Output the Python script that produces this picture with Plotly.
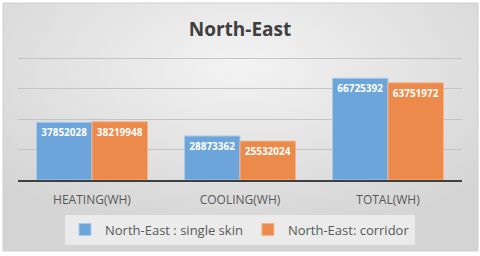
import plotly.graph_objects as go
import urllib.parse

categories = ["HEATING(WH)", "COOLING(WH)", "TOTAL(WH)"]
single_skin = [37852028, 28873362, 66725392]
corridor = [38219948, 25532024, 63751972]
series_names = ["North-East : single skin", "North-East: corridor"]
title_text = "North-East"

W, H = 480, 256
L, R, T, B = 18, 18, 55, 76
pw, ph = W - L - R, H - T - B

def px(x):
    return (x - L) / pw

def py(y):
    return (H - B - y) / ph

svg = (
    "<svg xmlns='http://www.w3.org/2000/svg' width='475' height='248' viewBox='0 0 475 248' preserveAspectRatio='none'>"
    "<defs><radialGradient id='g' cx='50%' cy='25%' r='70%'>"
    "<stop offset='0' stop-color='#f3f3f3'/><stop offset='1' stop-color='#d4d4d4'/>"
    "</radialGradient></defs><rect width='475' height='248' fill='url(#g)'/></svg>"
)
src = "data:image/svg+xml;charset=utf-8," + urllib.parse.quote(svg)

fig = go.Figure()
fig.add_trace(go.Bar(
    x=categories, y=single_skin, name=series_names[0],
    marker=dict(color="#6ca5d9", line=dict(color="#a9cbea", width=1)),
    text=["<b>%d</b>" % v for v in single_skin], textposition="inside",
    insidetextanchor="end", textangle=0,
    textfont=dict(color="white", size=10, family="Open Sans"),
))
fig.add_trace(go.Bar(
    x=categories, y=corridor, name=series_names[1],
    marker=dict(color="#eb8a4b", line=dict(color="#f3b58c", width=1)),
    text=["<b>%d</b>" % v for v in corridor], textposition="inside",
    insidetextanchor="end", textangle=0,
    textfont=dict(color="white", size=10, family="Open Sans"),
))

fig.update_layout(
    width=W, height=H,
    margin=dict(l=L, r=R, t=T, b=B, pad=0, autoexpand=False),
    paper_bgcolor="white", plot_bgcolor="rgba(0,0,0,0)",
    barmode="group", bargap=0.25, bargroupgap=0,
    title=dict(text="<b>" + title_text + "</b>", x=0.5, xanchor="center",
               y=1 - 29 / H, yanchor="middle",
               font=dict(size=19, color="#404040", family="Open Sans")),
    xaxis=dict(showline=True, linecolor="#404040", linewidth=2,
               tickfont=dict(size=12, color="#595959", family="Open Sans"),
               ticks="", showgrid=False, automargin=False, ticklabelstandoff=8),
    yaxis=dict(range=[0, 82000000], dtick=20000000, showticklabels=False,
               gridcolor="#c4c4c4", gridwidth=1, zeroline=False, showline=False,
               automargin=False),
    showlegend=True,
    legend=dict(orientation="h", x=0.5, xanchor="center", y=py(229.5), yanchor="middle",
                bgcolor="#ebebeb", font=dict(size=13, color="#595959", family="Open Sans"),
                itemwidth=30, traceorder="normal"),
    uniformtext=dict(minsize=8, mode="show"),
    images=[dict(source=src, xref="paper", yref="paper",
                 x=px(3), y=py(3), sizex=475 / pw, sizey=248 / ph,
                 xanchor="left", yanchor="top", sizing="stretch", layer="below")],
    shapes=[dict(type="rect", xref="paper", yref="paper",
                 x0=px(3), x1=px(478), y0=py(251), y1=py(3),
                 line=dict(color="#d0d0d0", width=1), layer="below")],
)

fig.write_html("out.html", config={"displayModeBar": False},
               post_script="document.body.style.margin='0';document.body.style.overflow='hidden';")
